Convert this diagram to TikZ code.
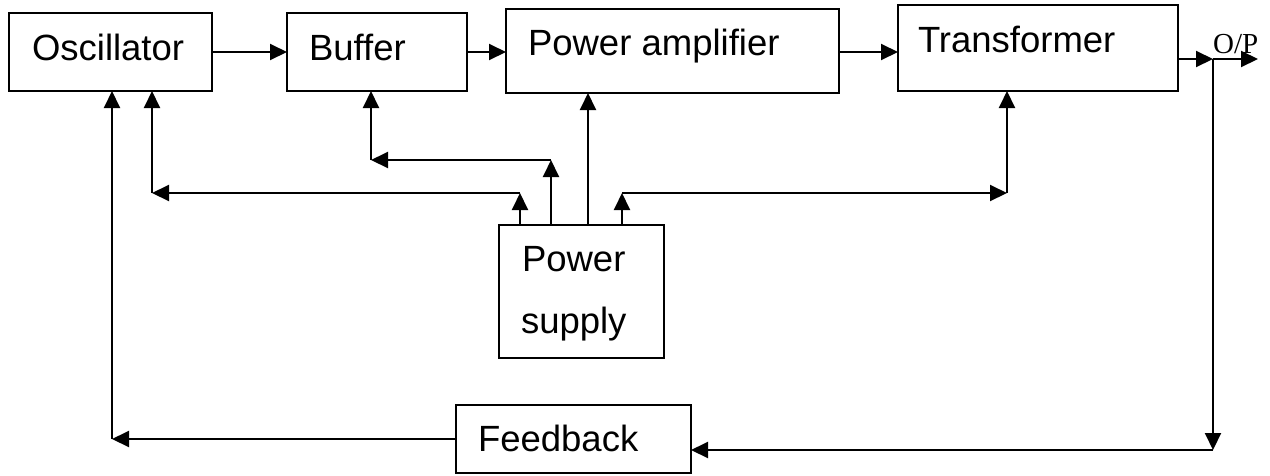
\documentclass[tikz,border=0pt]{standalone}
\usepackage{fontspec}
\setmainfont{Liberation Sans}
\newfontfamily\opfont{Liberation Serif}
\usetikzlibrary{arrows.meta,calc}

\tikzset{
  blk/.style={draw, line width=2pt, rectangle, inner sep=0pt, outer sep=0pt, anchor=north west},
  txt/.style={inner sep=0pt, outer sep=0pt, anchor=base west, font=\fontsize{36.5}{44}\selectfont},
  arr/.style={line width=2pt, -{Triangle[length=17pt,width=16pt]}},
  wire/.style={line width=2pt}
}

\begin{document}
\begin{tikzpicture}[x=1pt,y=-1pt]
\useasboundingbox (0,0) rectangle (1270,475);

% blocks
\node[blk, minimum width=203pt, minimum height=78pt] (osc) at (9,13) {};
\node[blk, minimum width=180pt, minimum height=78pt] (buf) at (287,13) {};
\node[blk, minimum width=333pt, minimum height=84pt] (pa)  at (506,9) {};
\node[blk, minimum width=280pt, minimum height=86pt] (tr)  at (898,5) {};
\node[blk, minimum width=165pt, minimum height=133pt] (ps) at (499,225) {};
\node[blk, minimum width=235pt, minimum height=68pt] (fb)  at (456,405) {};

% block labels
\node[txt] (osct) at (32,60) {Oscillator};
\node[txt] (buft) at (309,60) {Buffer};
\node[txt] (pat)  at (528,55) {Power amplifier};
\node[txt] (trt)  at (918,52) {Transformer};
\node[txt] (pst1) at (522,271) {Power};
\node[txt] (pst2) at (521,333) {supply};
\node[txt] (fbt)  at (478,451) {Feedback};

% junction points
\coordinate (j)   at (1213,59);
\coordinate (op)  at (1258,59);
\coordinate (jd)  at (1213,450);
\coordinate (fl)  at (112,439);
\coordinate (oa)  at (520,193);
\coordinate (ob)  at (152,193);
\coordinate (ba)  at (551,160);
\coordinate (bb)  at (371,160);
\coordinate (ta)  at (622,193);
\coordinate (tb)  at (1007,193);

% forward chain
\draw[arr] (osc.east |- 0,52) -- (buf.west |- 0,52);
\draw[arr] (buf.east |- 0,52) -- (pa.west |- 0,52);
\draw[arr] (pa.east |- 0,52) -- (tr.west |- 0,52);
\draw[arr] (tr.east |- j) -- (j);
\draw[arr] (j) -- (op);
\node[inner sep=0pt, anchor=base west, font=\opfont\fontsize{29}{33}\selectfont] (opt) at (1213,53) {O/P};

% feedback loop
\draw[arr] (j) -- (jd);
\draw[arr] (jd) -- (jd -| fb.east);
\draw[arr] (fb.west) -- (fl);
\draw[arr] (fl) -- (fl |- osc.south);

% power supply to oscillator
\draw[arr] (ps.north -| oa) -- (oa);
\draw[arr] (oa) -- (ob);
\draw[arr] (ob) -- (ob |- osc.south);

% power supply to buffer
\draw[arr] (ps.north -| ba) -- (ba);
\draw[arr] (ba) -- (bb);
\draw[arr] (bb) -- (bb |- buf.south);

% power supply to power amplifier
\draw[arr] (ps.north -| 588,0) -- (pa.south -| 588,0);

% power supply to transformer
\draw[arr] (ps.north -| ta) -- (ta);
\draw[arr] (ta) -- (tb);
\draw[arr] (tb) -- (tb |- tr.south);
\end{tikzpicture}
\end{document}
